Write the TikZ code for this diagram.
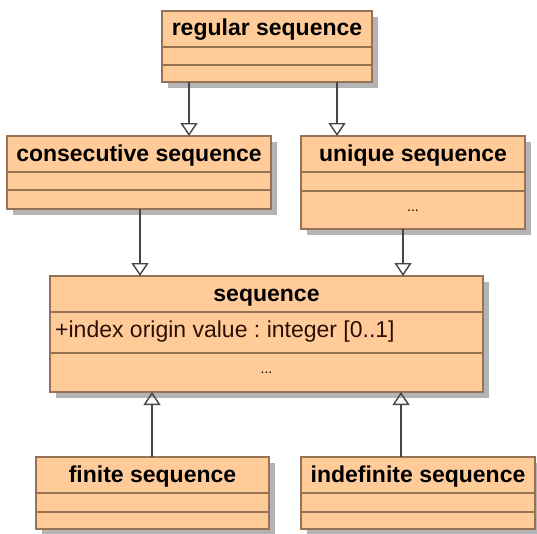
\documentclass[tikz,border=0pt]{standalone}
\usepackage{fontspec}
\setmainfont{Liberation Sans}
\usetikzlibrary{arrows.meta,shadows}

\begin{document}
\begin{tikzpicture}[x=1pt, y=-1pt,
  classbox/.style={draw=classborder, fill=classfill, line width=1.4pt, inner sep=0pt, outer sep=0pt,
    drop shadow={shadow xshift=6pt, shadow yshift=-6pt, fill=shadowgray, opacity=1}},
  sepline/.style={classborder, line width=1.2pt},
  title/.style={anchor=base, inner sep=0pt, font=\fontsize{23}{27}\selectfont\bfseries},
  attr/.style={anchor=base west, inner sep=0pt, text=attrtext, font=\fontsize{23}{27}\selectfont\frenchspacing},
  dots/.style={anchor=base, inner sep=0pt, font=\fontsize{14}{16}\selectfont},
  gen/.style={-{Triangle[open, length=13pt, width=17pt]}, line width=1.4pt, linkgray}]

\definecolor{classfill}{RGB}{255, 204, 153}
\definecolor{classborder}{RGB}{150, 115, 85}
\definecolor{shadowgray}{RGB}{180, 180, 180}
\definecolor{attrtext}{RGB}{45, 15, 5}
\definecolor{linkgray}{RGB}{70, 70, 70}

\useasboundingbox (0, 0) rectangle (537, 533);

% top
\node[classbox, minimum width=210pt, minimum height=71pt] (regular) at (267, 46.5) {};
\draw[sepline] (regular.west |- 0, 47) -- (regular.east |- 0, 47);
\draw[sepline] (regular.west |- 0, 65) -- (regular.east |- 0, 65);
\node[title] (regulartitle) at (267, 35) {regular sequence};

% middle row
\node[classbox, minimum width=264pt, minimum height=73pt] (consecutive) at (139, 172.5) {};
\draw[sepline] (consecutive.west |- 0, 172) -- (consecutive.east |- 0, 172);
\draw[sepline] (consecutive.west |- 0, 190) -- (consecutive.east |- 0, 190);
\node[title] (consecutivetitle) at (139, 161) {consecutive sequence};

\node[classbox, minimum width=224pt, minimum height=93pt] (unique) at (413, 182.5) {};
\draw[sepline] (unique.west |- 0, 172) -- (unique.east |- 0, 172);
\draw[sepline] (unique.west |- 0, 191) -- (unique.east |- 0, 191);
\node[title] (uniquetitle) at (413, 161) {unique sequence};
\node[dots] (uniquedots) at (413, 211) {...};

% sequence
\node[classbox, minimum width=433pt, minimum height=116pt] (sequence) at (266.5, 334) {};
\draw[sepline] (sequence.west |- 0, 312) -- (sequence.east |- 0, 312);
\draw[sepline] (sequence.west |- 0, 353) -- (sequence.east |- 0, 353);
\node[title] (sequencetitle) at (266.5, 301) {sequence};
\node[attr] (sequenceattr) at (55, 337) {+index origin value : integer [0..1]};
\node[dots] (sequencedots) at (266.5, 373) {...};

% bottom row
\node[classbox, minimum width=233pt, minimum height=72pt] (finite) at (152.5, 493) {};
\draw[sepline] (finite.west |- 0, 493) -- (finite.east |- 0, 493);
\draw[sepline] (finite.west |- 0, 512) -- (finite.east |- 0, 512);
\node[title] (finitetitle) at (152.5, 482) {finite sequence};

\node[classbox, minimum width=234pt, minimum height=72pt] (indefinite) at (418, 493) {};
\draw[sepline] (indefinite.west |- 0, 493) -- (indefinite.east |- 0, 493);
\draw[sepline] (indefinite.west |- 0, 512) -- (indefinite.east |- 0, 512);
\node[title] (indefinitetitle) at (418, 482) {indefinite sequence};

% generalizations
\draw[gen] (regular.south -| 189, 0) -- (consecutive.north -| 189, 0);
\draw[gen] (regular.south -| 337, 0) -- (unique.north -| 337, 0);
\draw[gen] (consecutive.south -| 140, 0) -- (sequence.north -| 140, 0);
\draw[gen] (unique.south -| 403, 0) -- (sequence.north -| 403, 0);
\draw[gen] (finite.north -| 152, 0) -- (sequence.south -| 152, 0);
\draw[gen] (indefinite.north -| 401, 0) -- (sequence.south -| 401, 0);

\end{tikzpicture}
\end{document}
